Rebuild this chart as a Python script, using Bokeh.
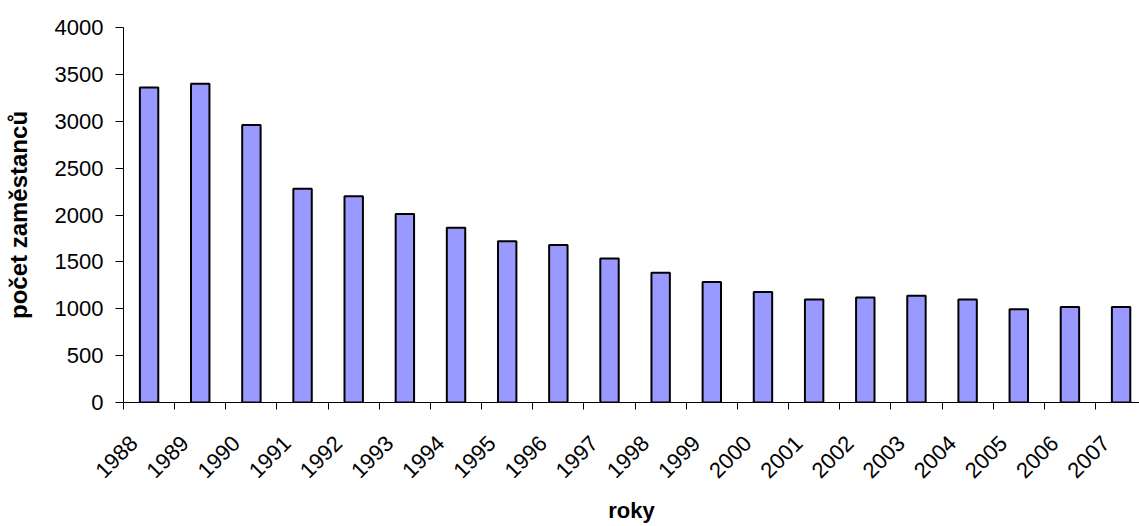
import math

from bokeh.embed import file_html
from bokeh.models import ColumnDataSource, FixedTicker, Range1d
from bokeh.plotting import figure
from bokeh.resources import INLINE

# Number of employees per year
years = [1988, 1989, 1990, 1991, 1992, 1993, 1994, 1995, 1996, 1997,
         1998, 1999, 2000, 2001, 2002, 2003, 2004, 2005, 2006, 2007]
employees = [3360, 3400, 2960, 2280, 2200, 2010, 1865, 1720, 1680, 1535,
             1385, 1285, 1180, 1100, 1120, 1140, 1100, 995, 1020, 1020]
y_ticks = [0, 500, 1000, 1500, 2000, 2500, 3000, 3500, 4000]

centers = [i + 0.5 for i in range(len(years))]
bounds = list(range(len(years) + 1))
# rotated year labels sit a little left of each bar centre
label_pos = [c - 0.3 for c in centers]

source = ColumnDataSource(dict(x=centers, top=employees))

FONT = "Liberation Sans"

p = figure(
    width=1139, height=526,
    output_backend="svg", toolbar_location=None,
    x_range=Range1d(0, 19.86), y_range=Range1d(0, 4000),
    min_border_left=123, min_border_right=0,
    min_border_top=27, min_border_bottom=124,
)
p.outline_line_color = None
p.xgrid.visible = False
p.ygrid.visible = False
p.background_fill_color = "white"
p.border_fill_color = "white"

p.vbar(x="x", top="top", bottom=0, width=0.36, source=source,
       fill_color="#9999FF", line_color="black", line_width=2)

# y axis
ya = p.yaxis[0]
ya.ticker = FixedTicker(ticks=y_ticks)
ya.axis_label = "počet zaměstanců"
ya.axis_label_text_font = FONT
ya.axis_label_text_font_style = "bold"
ya.axis_label_text_font_size = "24px"
ya.axis_label_text_color = "black"
ya.axis_label_standoff = 20
ya.major_label_text_font = FONT
ya.major_label_text_font_size = "22px"
ya.major_label_text_color = "black"
ya.major_label_standoff = 12
ya.major_tick_in = 0
ya.major_tick_out = 8
ya.minor_tick_in = 0
ya.minor_tick_out = 0
ya.axis_line_color = "black"
ya.major_tick_line_color = "black"

# x axis: ticks between categories, year labels near category centres
xa = p.xaxis[0]
xa.ticker = FixedTicker(ticks=label_pos, minor_ticks=bounds)
xa.major_label_overrides = {c: str(y) for c, y in zip(label_pos, years)}
xa.major_label_orientation = math.pi / 4
xa.major_label_text_font = FONT
xa.major_label_text_font_size = "22px"
xa.major_label_text_color = "black"
xa.major_label_standoff = 30
xa.major_tick_in = 0
xa.major_tick_out = 0
xa.minor_tick_in = 0
xa.minor_tick_out = 7
xa.minor_tick_line_color = "black"
xa.axis_line_color = "black"
xa.axis_label = "roky"
xa.axis_label_text_font = FONT
xa.axis_label_text_font_style = "bold"
xa.axis_label_text_font_size = "22px"
xa.axis_label_text_color = "black"
xa.axis_label_standoff = 10

open("out.html", "w").write(file_html(p, INLINE))
